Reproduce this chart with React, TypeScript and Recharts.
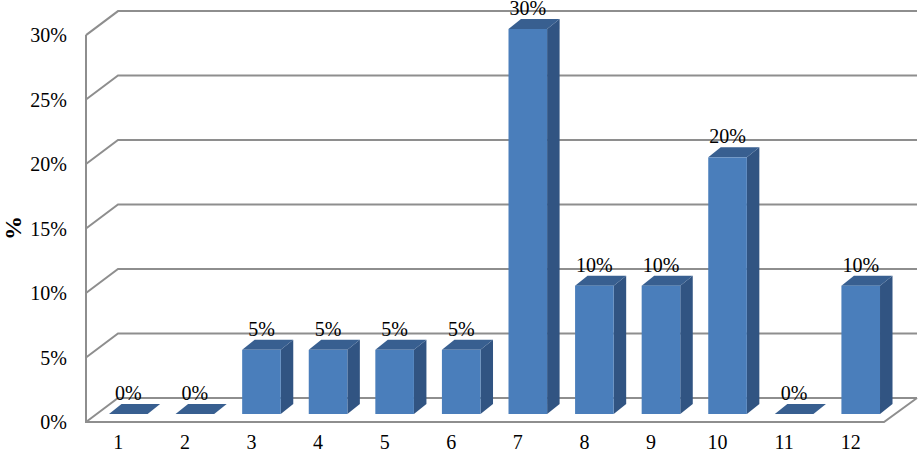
// 3D-style column chart: share of answers per category, drawn on a fake box with back wall and floor.
import { BarChart, Bar, XAxis, YAxis, CartesianGrid, LabelList, Label } from "recharts";

const categories = ["1", "2", "3", "4", "5", "6", "7", "8", "9", "10", "11", "12"];
const percents = [0, 0, 5, 5, 5, 5, 30, 10, 10, 20, 0, 10];
const yTicks = [0, 5, 10, 15, 20, 25, 30];

const data = categories.map((c, i) => ({ name: c, pct: percents[i] }));

const WIDTH = 923;
const HEIGHT = 453;
const BASE_Y = 414;
const FONT = "'Liberation Serif', 'Times New Roman', serif";
const GRID = "#8E8E8E";

// axis front edge sits a bit left/below the bars, back wall further up/right
const frontY = (y: number) => 422 - (BASE_Y - y) * 1.005;
const backY = (y: number) => frontY(y) - 24;

function GridLine(props: any) {
    const { x1, x2, y1 } = props;
    const isFloor = Math.abs(y1 - BASE_Y) < 1;
    const left = x1 - 9;
    const f = frontY(y1);
    const b = backY(y1);
    return (
        <g fill="none" stroke={GRID} strokeWidth={2}>
            <path d={`M${left},${f}L${x1 + 23},${b}L${x2 + 23},${b}`} />
            {isFloor && (
                <>
                    <path d={`M${left},${f}L${x2 - 10},${f}L${x2 + 23},${b}`} />
                    <path d={`M${left},${frontY(29)}L${left},${f + 1}`} />
                </>
            )}
        </g>
    );
}

function Column(props: any) {
    const { x, y, width, height } = props;
    const dx = 12.5;
    const dy = 10;
    return (
        <g>
            <path
                d={`M${x + width},${y}L${x + width + dx},${y - dy}L${x + width + dx},${y + height - dy}L${x + width},${y + height}Z`}
                fill="#315482"
            />
            <path
                d={`M${x},${y}L${x + dx},${y - dy}L${x + width + dx},${y - dy}L${x + width},${y}Z`}
                fill="#385F90"
            />
            <rect x={x} y={y} width={width} height={height} fill="#4A7EBB" />
        </g>
    );
}

function YTick(props: any) {
    const { y, payload } = props;
    return (
        <text x={67} y={frontY(y) + 7} textAnchor="end" fontFamily={FONT} fontSize={20} fill="#000">
            {payload.value}%
        </text>
    );
}

function XTick(props: any) {
    const { x, payload } = props;
    return (
        <text x={x - 10} y={448.5} textAnchor="middle" fontFamily={FONT} fontSize={20} fill="#000">
            {payload.value}
        </text>
    );
}

function AxisTitle() {
    return (
        <text
            transform="translate(21,228) rotate(-90)"
            textAnchor="middle"
            fontFamily={FONT}
            fontSize={24}
            fontWeight="bold"
            fill="#000"
        >
            %
        </text>
    );
}

export default function App() {
    return (
        <div style={{ position: "absolute", left: 0, top: 0, width: WIDTH, height: HEIGHT, background: "#fff" }}>
            <BarChart
                width={WIDTH}
                height={HEIGHT}
                data={data}
                margin={{ top: 29, right: 29, bottom: 0, left: 0 }}
            >
                <CartesianGrid vertical={false} horizontal={(p: any) => <GridLine key={p.index} {...p} />} />
                <XAxis dataKey="name" height={39} axisLine={false} tickLine={false} tick={<XTick />} interval={0} />
                <YAxis
                    width={95}
                    domain={[0, 30]}
                    ticks={yTicks}
                    axisLine={false}
                    tickLine={false}
                    tick={<YTick />}
                >
                    <Label content={<AxisTitle />} />
                </YAxis>
                <Bar dataKey="pct" barSize={38.6} shape={<Column />} isAnimationActive={false}>
                    <LabelList
                        dataKey="pct"
                        position="top"
                        offset={14}
                        formatter={(v: any) => `${v}%`}
                        style={{ fontFamily: FONT, fontSize: 20, fill: "#000" }}
                    />
                </Bar>
            </BarChart>
        </div>
    );
}
